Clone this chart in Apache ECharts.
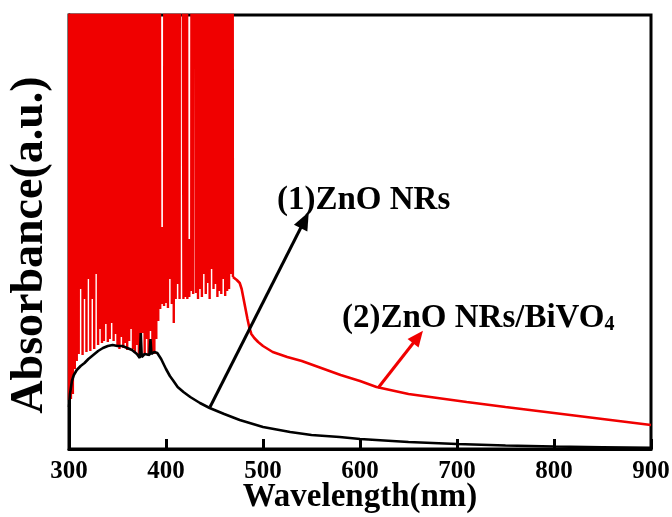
<!DOCTYPE html>
<html><head><meta charset="utf-8">
<script src="https://cdn.jsdelivr.net/npm/echarts/dist/echarts.min.js"></script>
<style>html,body{margin:0;padding:0;background:#fff}#c{width:672px;height:517px}</style>
</head><body><div id="c"></div>
<script>
// saturated detector reading (off the top of the axis)
const SAT = 1500;

// x tick labels
const xTicks = [300, 400, 500, 600, 700, 800, 900];

// (1) ZnO NRs  [wavelength nm, absorbance a.u.]
const znoData = [
  [300,42],[301,55],[303,68],[305,74],[308,79],[312,83],[316,86],[320,90],[325,94],[330,98],
  [335,101],[340,103],[345,104],[350,103],[355,103],[360,101],[365,99],[370,95],[373,91],[374,116],
  [375,92],[378,95],[380,96],[383,94],[384,110],[385,95],[388,97],[391,96],[395,90],[397,86],
  [400,80],[404,73],[407,69],[412,62],[418,57],[425,52],[435,46],[445,41],[460,35],[476,29],
  [500,22],[528,17],[550,14],[579,12],[600,10],[650,7],[700,5],[750,3.5],[800,2.5],[850,1.8],[900,1.2]
];

// (2) ZnO NRs/BiVO4 : noisy (saturating) region
const bivNoiseData = [
  [300,49],[301,SAT],[302,50],[303,SAT],[304,55],[305,SAT],[306,80],[307,SAT],[308,88],[309,SAT],
  [310,95],[311,SAT],[312,160],[313,SAT],[314,94],[315,SAT],[316,150],[317,SAT],[318,97],[319,SAT],
  [320,170],[321,SAT],[322,98],[323,SAT],[324,150],[325,SAT],[326,100],[327,SAT],[328,175],[329,SAT],
  [330,104],[331,SAT],[332,120],[333,SAT],[334,106],[335,SAT],[336,108],[337,SAT],[338,125],[339,SAT],
  [340,107],[341,SAT],[342,110],[343,SAT],[344,126],[345,SAT],[346,108],[347,SAT],[348,115],[349,SAT],
  [350,104],[351,SAT],[352,100],[353,SAT],[354,112],[355,SAT],[356,101],[357,SAT],[358,106],[359,SAT],
  [360,99],[361,SAT],[362,108],[363,SAT],[364,120],[365,SAT],[366,100],[367,SAT],[368,96],[369,SAT],
  [370,104],[371,SAT],[372,93],[373,SAT],[374,95],[375,SAT],[376,116],[377,SAT],[378,94],[379,SAT],
  [380,110],[381,SAT],[382,93],[383,SAT],[384,118],[385,SAT],[386,96],[387,SAT],[388,95],[389,SAT],
  [390,110],[391,SAT],[392,128],[393,SAT],[394,140],[395,222],[396,145],[397,222],[398,143],[399,SAT],
  [400,146],[401,SAT],[402,141],[403,SAT],[404,170],[405,SAT],[406,145],[407,SAT],[408,126],[409,SAT],
  [410,150],[411,SAT],[412,165],[413,SAT],[414,150],[415,SAT],[416,SAT],[417,SAT],[418,150],[419,SAT],
  [420,152],[421,SAT],[422,150],[423,210],[424,152],[425,210],[426,158],[427,SAT],[428,155],[429,SAT],
  [430,SAT],[431,156],[432,SAT],[433,150],[434,SAT],[435,160],[436,SAT],[437,152],[438,SAT],[439,175],
  [440,SAT],[441,155],[442,SAT],[443,166],[444,SAT],[445,150],[446,SAT],[447,180],[448,SAT],[449,160],
  [450,369],[451,165],[452,SAT],[453,152],[454,SAT],[455,158],[456,SAT],[457,155],[458,SAT],[459,170],
  [460,SAT],[461,153],[462,SAT],[463,158],[464,SAT],[465,160],[466,SAT],[467,175],[468,SAT],[469,172]
];

// (2) ZnO NRs/BiVO4 : smooth tail
const bivSmoothData = [
  [469,172],[473,169],[476,166],[478,160],[480,150],[482,140],[484,130],[486,121],[488,115],[491,111],
  [495,107],[500,103],[510,97],[525,92],[540,88],[560,81],[580,74],[600,68],[617,62],[650,55],
  [680,51],[710,47],[750,42],[800,36],[850,30],[900,24]
];

// annotation arrows [start on curve, tip]
const arrow1 = [[445.4, 42], [543, 229]];
const arrow2 = [[618.6, 61], [659.8, 112]];
const label1 = '(1)ZnO NRs';
const label2Main = '(2)ZnO NRs/BiVO';
const label2Sub = '4';

const FONT = '"Liberation Serif", "Times New Roman", serif';
const chart = echarts.init(document.getElementById('c'));
chart.setOption({
  animation: false,
  backgroundColor: '#fff',
  grid: { left: 69, top: 15, right: 21, bottom: 68, containLabel: false, outerBoundsMode: 'none',
    show: true, borderColor: '#000', borderWidth: 3, backgroundColor: 'transparent' },
  xAxis: {
    type: 'value', min: 300, max: 900, interval: 100,
    axisLine: { show: true, lineStyle: { color: '#000', width: 3 } },
    axisTick: { show: true, inside: true, length: 10, lineStyle: { color: '#000', width: 3 } },
    splitLine: { show: false },
    axisLabel: { color: '#000', fontFamily: FONT, fontWeight: 'bold', fontSize: 25, margin: 10,
      formatter: v => xTicks.includes(v) ? String(v) : '' },
    name: 'Wavelength(nm)', nameLocation: 'middle', nameGap: 32, nameMoveOverlap: false,
    nameTextStyle: { color: '#000', fontFamily: FONT, fontWeight: 'bold', fontSize: 33 }
  },
  yAxis: {
    type: 'value', min: 0, max: 434,
    axisLine: { show: true, lineStyle: { color: '#000', width: 3 } },
    axisTick: { show: false }, axisLabel: { show: false }, splitLine: { show: false },
    name: 'Absorbance(a.u.)', nameLocation: 'middle', nameGap: 16, nameRotate: 90, nameMoveOverlap: false,
    nameTextStyle: { color: '#000', fontFamily: FONT, fontWeight: 'bold', fontSize: 46, padding: [0, 26, 0, 0] }
  },
  series: [
    { type: 'line', name: 'noise', data: bivNoiseData, showSymbol: false, symbol: 'none', z: 2,
      lineStyle: { color: '#f00000', width: 2.4 }, clip: true },
    { type: 'line', name: 'tail', data: bivSmoothData, showSymbol: false, symbol: 'none', z: 2,
      lineStyle: { color: '#f00000', width: 2.6 }, clip: true,
      markLine: { silent: true, symbol: ['none', 'triangle'], symbolSize: [14, 16], label: { show: false },
        lineStyle: { color: '#f00000', width: 3, type: 'solid' },
        data: [[{ coord: arrow2[0] }, { coord: arrow2[1] }]] } },
    { type: 'line', name: 'zno', data: znoData, showSymbol: false, symbol: 'none', z: 3,
      lineStyle: { color: '#000', width: 2.6 }, clip: true,
      markLine: { silent: true, symbol: ['none', 'triangle'], symbolSize: [15, 18], label: { show: false },
        lineStyle: { color: '#000', width: 3, type: 'solid' },
        data: [[{ coord: arrow1[0] }, { coord: arrow1[1] }]] } }
  ],
  graphic: [
    { type: 'text', left: 277, top: 184, z: 10,
      style: { text: label1, font: 'bold 33px ' + FONT, fill: '#000' } },
    { type: 'text', left: 342, top: 302, z: 10,
      style: { text: '{a|' + label2Main + '}{s|' + label2Sub + '}', fill: '#000',
        rich: { a: { font: 'bold 33px ' + FONT, fill: '#000' },
                s: { font: 'bold 20px ' + FONT, fill: '#000', padding: [12, 0, 0, 0] } } } }
  ]
});
</script></body></html>
